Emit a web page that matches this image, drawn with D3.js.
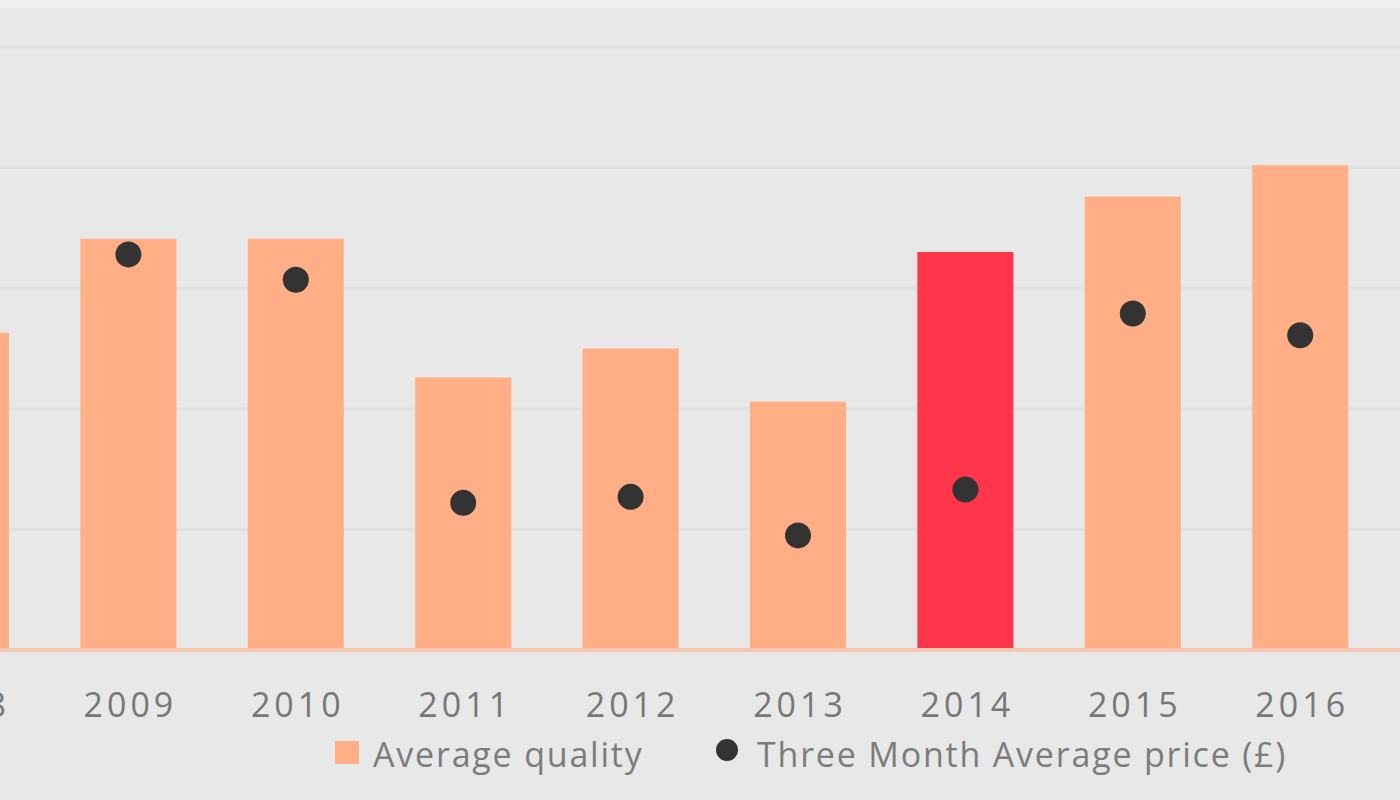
<!DOCTYPE html>
<html><head><meta charset="utf-8">
<script src="https://cdn.jsdelivr.net/npm/d3@7"></script>
<style>html,body{margin:0;padding:0;background:#e8e8e8;overflow:hidden}</style>
</head><body>
<svg id="c" width="1400" height="800"></svg>
<script>
const years = ["2008","2009","2010","2011","2012","2013","2014","2015","2016"];
const quality = [2.63, 3.41, 3.41, 2.26, 2.50, 2.06, 3.30, 3.76, 4.02];
const price = [null, 3.28, 3.07, 1.22, 1.27, 0.95, 1.33, 2.79, 2.61];
const highlightYear = "2014";
const gridTicks = [0, 1, 2, 3, 4, 5];
const legendLabels = ["Average quality", "Three Month Average price (£)"];

const svg = d3.select("#c");
svg.append("rect").attr("width",1400).attr("height",800).attr("fill","#e8e8e8");
svg.append("rect").attr("width",1400).attr("height",8).attr("fill","#efefef");

const step = 167.4;
const x = d3.scaleBand().domain(years)
  .range([-39 - step/2, -39 - step/2 + step*years.length])
  .paddingInner(0.426).paddingOuter(0.213);
const y = d3.scaleLinear().domain([0,5]).range([650,47]);

svg.append("g").selectAll("line").data(gridTicks.slice(1)).join("line")
  .attr("x1",0).attr("x2",1400)
  .attr("y1",d=>y(d)).attr("y2",d=>y(d))
  .attr("stroke","#e0e0e0").attr("stroke-width",3);

svg.append("g").selectAll("rect").data(years).join("rect")
  .attr("x",d=>x(d)).attr("width",x.bandwidth())
  .attr("y",(d,i)=>y(quality[i])).attr("height",(d,i)=>y(0)-y(quality[i]))
  .attr("fill",d=>d===highlightYear?"#ff354b":"#ffae85");

svg.append("line").attr("x1",0).attr("x2",1400).attr("y1",y(0)).attr("y2",y(0))
  .attr("stroke","#f6c6b1").attr("stroke-width",4);

svg.append("g").selectAll("circle").data(years.filter((d,i)=>price[i]!=null)).join("circle")
  .attr("cx",d=>x(d)+x.bandwidth()/2)
  .attr("cy",d=>y(price[years.indexOf(d)]))
  .attr("r",13).attr("fill","#333333");

const axis = d3.axisBottom(x).tickSize(0).tickPadding(0);
const ax = svg.append("g").attr("transform","translate(0,705)").call(axis);
ax.select(".domain").remove();
ax.selectAll("text").attr("dy","0.35em").attr("dx","2px").attr("fill","#777777")
  .style("font-family","'Open Sans', sans-serif").style("font-size","34px").style("letter-spacing","4px");

const lg = svg.append("g").style("font-family","'Open Sans', sans-serif").style("font-size","34px")
  .style("letter-spacing","1.8px").attr("fill","#7c7c7c");
lg.append("rect").attr("x",335).attr("y",741).attr("width",24).attr("height",23).attr("fill","#ffae85");
lg.append("text").attr("x",373).attr("y",767).text(legendLabels[0]);
lg.append("circle").attr("cx",727).attr("cy",750).attr("r",11).attr("fill","#333333");
lg.append("text").attr("x",757).attr("y",767).text(legendLabels[1]);
</script>
</body></html>
